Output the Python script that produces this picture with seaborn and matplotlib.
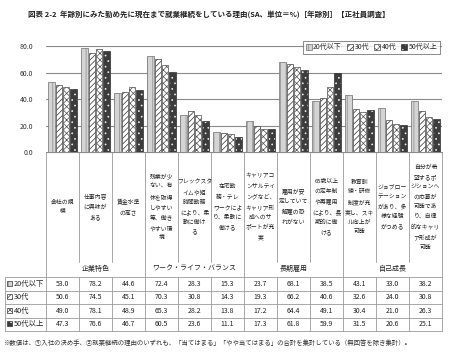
import numpy as np
import pandas as pd
import seaborn as sns
import matplotlib.pyplot as plt
from matplotlib.patches import Patch, Rectangle

#### age-group reasons for staying with current employer (regular employees)

title = '図表 2-2  年齢別にみた勤め先に現在まで就業継続をしている理由(SA、単位＝%)［年齢別］【正社員調査】'
categories = ['会社の規\n模', '仕事内容\nに興味が\nある', '賃金水準\nの高さ',
              '残業が少\nない、有\n休を取得\nしやすい\n等、働き\nやすい環\n境',
              'フレックスタ\nイムや短\n時間勤務\nにより、柔\n軟に働け\nる',
              '在宅勤\n務・テレ\nワークによ\nり、柔軟に\n働ける',
              'キャリアコ\nンサルティ\nングなど、\nキャリア形\n成へのサ\nポートが充\n実',
              '雇用が安\n定していて\n解雇の恐\nれがない',
              '65歳以上\nの定年制\nや再雇用\nにより、長\n期的に働\nける',
              '教育訓\n練・研修\n制度が充\n実し、スキ\nル向上が\n可能',
              'ジョブロー\nテーション\nがあり、多\n様な経験\nがつめる',
              '自分が希\n望するポ\nジションへ\nの応募が\n可能であ\nり、自律\n的なキャリ\nア形成が\n可能']
ages = ['20代以下', '30代', '40代', '50代以上']
v20 = [53.0, 78.2, 44.6, 72.4, 28.3, 15.3, 23.7, 68.1, 38.5, 43.1, 33.0, 38.2]
v30 = [50.6, 74.5, 45.1, 70.3, 30.8, 14.3, 19.3, 66.2, 40.6, 32.6, 24.0, 30.8]
v40 = [49.0, 78.1, 48.9, 65.3, 28.2, 13.8, 17.2, 64.4, 49.1, 30.4, 21.0, 26.3]
v50 = [47.3, 76.6, 46.7, 60.5, 23.6, 11.1, 17.3, 61.8, 59.9, 31.5, 20.6, 25.1]
groups = ['企業特色', 'ワーク・ライフ・バランス', '長期雇用', '自己成長']
group_span = [3, 3, 3, 3]
yticks = [0, 20, 40, 60, 80]
note = '※数値は、①入社の決め手、②就業継続の理由のいずれも、「当てはまる」「やや当てはまる」の合計を集計している（無回答を除き集計）。'

# bar styles: face, edge, hatch, hatch colour
styles = [('#d4d4d4', '#6e6e6e', '|||', '#8a8a8a'),
          ('#ffffff', '#404040', '//////', '#303030'),
          ('#ffffff', '#505050', 'xxxxx', '#505050'),
          ('#3c3c3c', '#303030', '...', '#e8e8e8')]

sns.set_theme(style='white')
plt.rcParams['font.family'] = ['Noto Sans CJK JP', 'DejaVu Sans']
plt.rcParams['hatch.linewidth'] = 0.5

rows = []
for age, vals in zip(ages, [v20, v30, v40, v50]):
    for c, v in zip(categories, vals):
        rows.append({'cat': c, 'age': age, 'val': v})
df = pd.DataFrame(rows)

W, H = 450, 352
fig = plt.figure(figsize=(4.5, 3.52), dpi=100)

# pixel overlay for the table part
fx = fig.add_axes([0, 0, 1, 1])
fx.set_xlim(0, W)
fx.set_ylim(H, 0)
fx.axis('off')

x0, cw = 46, 33
y_top, y_base = 46, 152
ax = fig.add_axes([x0 / W, 1 - y_base / H, cw * 12 / W, (y_base - y_top) / H])
sns.barplot(data=df, x='cat', y='val', hue='age', order=categories, hue_order=ages,
            width=0.88, gap=0.12, legend=False, ax=ax, zorder=3)

def style_patch(p, st):
    fc, ec, ha, hc = st
    p.set_facecolor(fc)
    p.set_edgecolor(ec)
    p.set_linewidth(0.5)
    p.set_hatch(ha)
    p._hatch_color = plt.matplotlib.colors.to_rgba(hc)

for cont, st in zip(ax.containers, styles):
    for p in cont:
        style_patch(p, st)

ax.set_ylim(0, 80)
ax.set_yticks(yticks)
ax.set_yticklabels([f'{t:.1f}' for t in yticks], fontsize=5, color='#333333')
ax.tick_params(axis='y', length=0, pad=9)
ax.set_xticks([])
ax.set_xlabel('')
ax.set_ylabel('')
for t in yticks:
    ax.axhline(t, color='#8a8a8a', lw=0.8, zorder=1)
for s in ax.spines.values():
    s.set_visible(False)

handles = []
for age, st in zip(ages, styles):
    h = Patch(facecolor=st[0], edgecolor=st[1], hatch=st[2], lw=0.5, label=age)
    h._hatch_color = plt.matplotlib.colors.to_rgba(st[3])
    handles.append(h)
leg = fig.legend(handles=handles, ncol=4, loc='upper right', bbox_to_anchor=(440 / W, 1 - 41 / H),
                 fontsize=5, frameon=True, fancybox=False, handlelength=0.9, handleheight=0.9,
                 handletextpad=0.2, columnspacing=0.7, borderpad=0.35, borderaxespad=0)
leg.get_frame().set_edgecolor('#555555')
leg.get_frame().set_linewidth(0.6)

fig.text(28 / W, 1 - 14 / H, title, fontsize=5.4, fontweight='bold', color='#222222', va='center')

# category label area
lc = '#9a9a9a'
y_lab_end, y_tab, rh = 262, 277, 13.5
y_tab_end = y_tab + rh * 4
xs = [x0 + cw * i for i in range(13)]
bounds = np.cumsum([0] + group_span)
for i, x in enumerate(xs):
    if i in bounds:
        fx.plot([x, x], [y_base, y_tab_end], color=lc, lw=0.6)
    else:
        fx.plot([x, x], [y_base, y_lab_end], color=lc, lw=0.6)
        fx.plot([x, x], [y_tab, y_tab_end], color=lc, lw=0.6)
fx.plot([x0, xs[-1]], [y_base, y_base], color='#8a8a8a', lw=0.8)
for i, c in enumerate(categories):
    fx.text(x0 + cw * (i + 0.5), 207, c, fontsize=4.2, ha='center', va='center',
            linespacing=2.0, color='#222222')
for g, a, n in zip(groups, bounds[:-1], group_span):
    fx.text(x0 + cw * (a + n / 2), 269, g, fontsize=5, ha='center', va='center', color='#222222')

# data table
for k in range(5):
    y = y_tab + rh * k
    fx.plot([5, xs[-1]], [y, y], color=lc, lw=0.6)
fx.plot([5, 5], [y_tab, y_tab_end], color=lc, lw=0.6)
for k, (age, vals, st) in enumerate(zip(ages, [v20, v30, v40, v50], styles)):
    yc = y_tab + rh * (k + 0.5)
    sq = Rectangle((7, yc - 3.2), 5, 5, facecolor=st[0], edgecolor='#333333', lw=0.5, hatch=st[2])
    sq._hatch_color = plt.matplotlib.colors.to_rgba(st[3])
    fx.add_patch(sq)
    fx.text(14, yc, age, fontsize=5.3, ha='left', va='center', color='#222222')
    for i, v in enumerate(vals):
        fx.text(x0 + cw * (i + 0.5), yc, f'{v:.1f}', fontsize=5, ha='center', va='center',
                color='#222222')

fx.text(3, 343, note, fontsize=4.6, ha='left', va='center', color='#333333')

plt.savefig('out.png', dpi=100)
